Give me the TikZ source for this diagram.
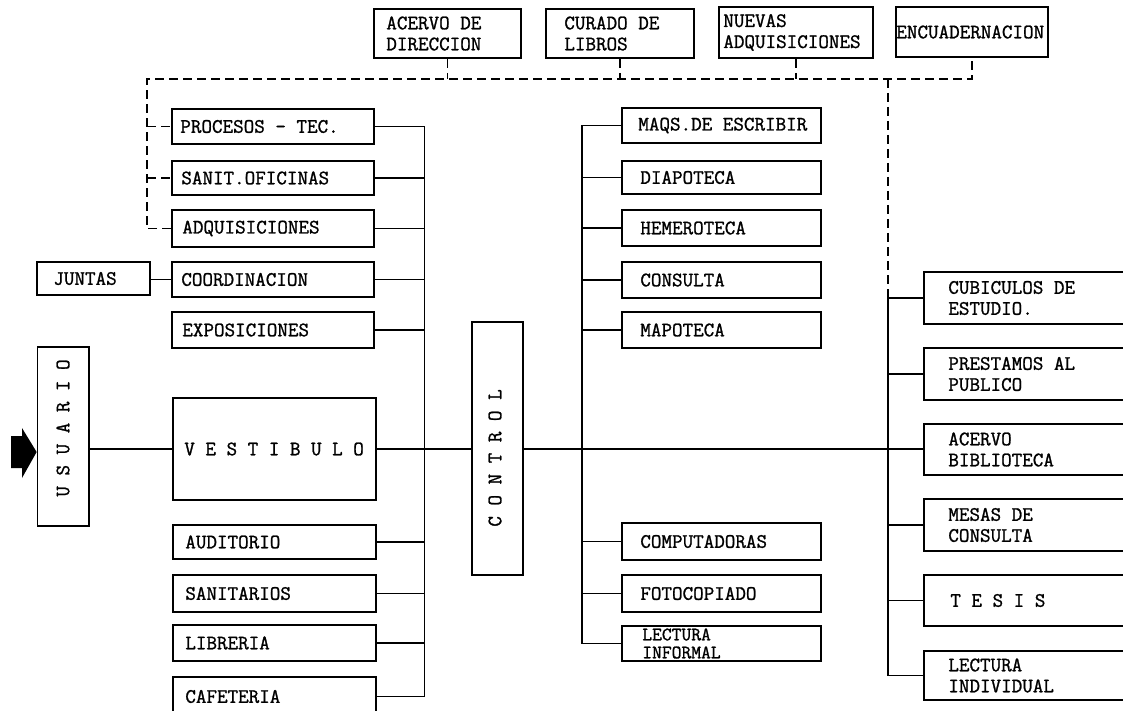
\documentclass[tikz,border=0pt]{standalone}
\usepackage{fontspec}
\newfontfamily\tw{Latin Modern Mono}[FakeBold=1.2]
\usetikzlibrary{fit}
\tikzset{
  box/.style={draw, line width=1.7pt, inner sep=0pt},
  txt/.style={font=\tw\fontsize{20.5}{21}\selectfont, inner sep=0pt, align=left, anchor=west},
  wire/.style={line width=1.5pt},
  dash line/.style={line width=1.5pt, dash pattern=on 9pt off 5pt},
}
\newcommand\bx[7]{%
  \node[box, fit={(#2,#3) (#4,#5)}] (#1) {};
  \node[txt] (#1t) at ([xshift=#6pt]#1.west) {#7};}
\begin{document}
\begin{tikzpicture}[x=1pt,y=-1pt]
\useasboundingbox (0,0) rectangle (1123,711);
\clip (0,0) rectangle (1123,711);
% top boxes
\bx{acervod}{374}{9}{521}{58}{13}{ACERVO DE\\DIRECCION}
\bx{curado}{546}{9}{694}{58}{19}{CURADO DE\\LIBROS}
\bx{nuevas}{719}{7}{873}{58}{5}{NUEVAS\\ADQUISICIONES}
\bx{encuad}{896}{7}{1048}{57}{1}{ENCUADERNACION}
% left column
\bx{proc}{172}{109}{374}{144}{9}{PROCESOS - TEC.}
\bx{sanit}{172}{161}{374}{195}{10}{SANIT.OFICINAS}
\bx{adq}{172}{210}{374}{247}{11}{ADQUISICIONES}
\bx{coord}{172}{262}{374}{297}{10}{COORDINACION}
\bx{expo}{172}{312}{374}{348}{11}{EXPOSICIONES}
\bx{juntas}{37}{262}{150}{295}{17}{JUNTAS}
\bx{vest}{173}{398}{376}{500}{12}{V E S T I B U L O}
\bx{aud}{173}{525}{376}{559}{13}{AUDITORIO}
\bx{sanitarios}{173}{575}{376}{612}{13}{SANITARIOS}
\bx{lib}{173}{625}{376}{661}{13}{LIBRERIA}
\bx{caf}{173}{677}{376}{716}{13}{CAFETERIA}
% usuario and control
\node[box, fit={(37.5,347) (89,526)}] (usuario) {};
\node[txt, anchor=center, rotate=90] (usuariot) at (63,428) {U S U A R I O};
\node[box, fit={(472,322) (523,575)}] (control) {};
\node[txt, anchor=center, rotate=90] (controlt) at (495,458) {C O N T R O L};
% middle column
\bx{maqs}{622}{108}{821}{143}{17}{MAQS.DE ESCRIBIR}
\bx{diapo}{622}{161}{821}{194}{19}{DIAPOTECA}
\bx{hemero}{622}{210}{821}{246}{19}{HEMEROTECA}
\bx{consulta}{622}{262}{821}{298}{19}{CONSULTA}
\bx{mapo}{622}{312}{821}{348}{19}{MAPOTECA}
\bx{compu}{622}{523}{821}{560}{19}{COMPUTADORAS}
\bx{foto}{622}{575}{821}{612}{19}{FOTOCOPIADO}
\node[box, fit={(622,626) (821,661)}] (lectinf) {};
\node[txt, font=\tw\fontsize{19}{18}\selectfont] (lectinft) at ([xshift=21pt]lectinf.west) {LECTURA\\INFORMAL};
% right column
\bx{cub}{924}{272}{1140}{324}{25}{CUBICULOS DE\\ESTUDIO.}
\bx{prest}{924}{348}{1140}{400}{25}{PRESTAMOS AL\\PUBLICO}
\bx{acervob}{924}{424}{1140}{475}{25}{ACERVO\\BIBLIOTECA}
\bx{mesas}{924}{499}{1140}{551}{25}{MESAS DE\\CONSULTA}
\bx{tesis}{924}{575}{1140}{626}{27}{T E S I S}
\bx{lectind}{924}{651}{1140}{700}{25}{LECTURA\\INDIVIDUAL}
% arrow
\fill (11,436) -- (22,436) -- (22,428) -- (usuario.west |- 0,452) -- (22,478) -- (22,468) -- (11,468) -- cycle;
% buses
\coordinate (lb) at (424.5,0);
\coordinate (mb) at (582,0);
\coordinate (rb) at (888,0);
\coordinate (dl) at (147,79);
% left bus
\draw[wire] (proc.east -| lb) -- (caf.east -| lb);
\foreach \n in {proc,sanit,adq,coord,expo,aud,sanitarios,lib,caf}
  \draw[wire] (\n.east) -- (\n.east -| lb);
% middle bus
\draw[wire] (maqs.west -| mb) -- (lectinf.west -| mb);
\foreach \n in {maqs,diapo,hemero,consulta,mapo,compu,foto,lectinf}
  \draw[wire] (\n.west -| mb) -- (\n.west);
% right bus
\draw[wire] (cub.west -| rb) -- (lectind.west -| rb);
\foreach \n in {cub,prest,acervob,mesas,tesis,lectind}
  \draw[wire] (\n.west -| rb) -- (\n.west);
% main line
\draw[wire] (usuario.east |- vest.west) -- (vest.west);
\draw[wire] (vest.east) -- (vest.east -| control.west);
\draw[wire] (control.east |- vest.east) -- (vest.east -| acervob.west);
\draw[wire] (juntas.east |- coord.west) -- (coord.west);
% dashed links
\draw[dash line] (adq.west) -- (adq.west -| dl) -- (dl) -- (dl -| encuad.south) -- (encuad.south);
\draw[dash line] (proc.west -| dl) -- (proc.west);
\draw[dash line] (sanit.west -| dl) -- (sanit.west);
\foreach \n in {acervod,curado,nuevas}
  \draw[dash line] (\n.south) -- (\n.south |- dl);
\draw[dash line] (dl -| rb) -- (cub.west -| rb);
\end{tikzpicture}
\end{document}
